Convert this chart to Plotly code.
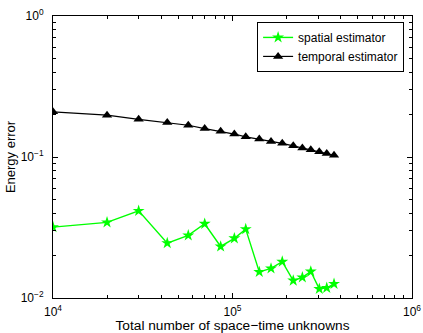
import plotly.graph_objects as go

unknowns = [10000, 20000, 30000, 43300, 56700, 70000, 85900, 102400, 118500,
            141000, 163900, 189300, 218000, 245000, 273000, 304500, 335000, 367800]
spatial = [0.0318, 0.0344, 0.0415, 0.0245, 0.0278, 0.0336, 0.0232, 0.0265, 0.0308,
           0.0153, 0.0162, 0.0181, 0.0133, 0.0140, 0.0154, 0.0116, 0.0118, 0.0126]
temporal = [0.209, 0.198, 0.185, 0.176, 0.168, 0.159, 0.152, 0.1455, 0.139,
            0.134, 0.129, 0.125, 0.120, 0.116, 0.1127, 0.109, 0.106, 0.1028]

x_ticks = [1e4, 1e5, 1e6]
x_ticktext = ["10<sup>4</sup>", "10<sup>5</sup>", "10<sup>6</sup>"]
y_ticks = [1e-2, 1e-1, 1e0]
y_ticktext = ["10<sup>−2</sup>", "10<sup>−1</sup>", "10<sup>0</sup>"]

x_minor = [m * 10 ** k for k in (4, 5) for m in range(2, 10)]
y_minor = [m * 10 ** k for k in (-2, -1) for m in range(2, 10)]

font = "Liberation Sans, Arial, sans-serif"

fig = go.Figure()
fig.add_trace(go.Scatter(
    x=unknowns, y=spatial, mode="lines+markers", name="spatial estimator",
    line=dict(color="#00ff00", width=1.4),
    marker=dict(symbol="star", size=9, color="#00ff00"),
))
fig.add_trace(go.Scatter(
    x=unknowns, y=temporal, mode="lines+markers", name="temporal estimator",
    line=dict(color="black", width=1.2),
    marker=dict(symbol="triangle-up", size=9, color="black"),
))

axis_common = dict(
    showline=True, linecolor="black", linewidth=1, mirror="ticks",
    ticks="inside", ticklen=5, tickcolor="black", showgrid=False, zeroline=False,
    tickfont=dict(family=font, size=12, color="black"), automargin=False,
)

fig.update_xaxes(
    type="log", range=[4, 6], tickmode="array", tickvals=x_ticks, ticktext=x_ticktext,
    ticklabelstandoff=3,
    title=dict(text="Total number of space−time unknowns", font=dict(family=font, size=13.7, color="black"), standoff=10),
    minor=dict(tickmode="array", tickvals=x_minor, ticks="inside", ticklen=3, tickcolor="black", showgrid=False),
    **axis_common,
)
fig.update_yaxes(
    type="log", range=[-2, 0], tickmode="array", tickvals=y_ticks, ticktext=y_ticktext,
    ticklabelstandoff=6,
    title=dict(text="Energy error", font=dict(family=font, size=13, color="black"), standoff=2),
    minor=dict(tickmode="array", tickvals=y_minor, ticks="inside", ticklen=3, tickcolor="black", showgrid=False),
    **axis_common,
)

fig.update_layout(
    width=423, height=333,
    margin=dict(l=53, r=11, t=16, b=35),
    plot_bgcolor="white", paper_bgcolor="white",
    font=dict(family=font, size=12, color="black"),
    legend=dict(
        x=0.978, y=0.979, xanchor="right", yanchor="top",
        bordercolor="black", borderwidth=1, bgcolor="white",
        font=dict(family=font, size=12, color="black"),
        tracegroupgap=0, itemwidth=30,
    ),
)

fig.write_html(
    "out.html",
    config={"displayModeBar": False},
    post_script="document.body.style.margin='0';document.body.style.padding='0';",
)
